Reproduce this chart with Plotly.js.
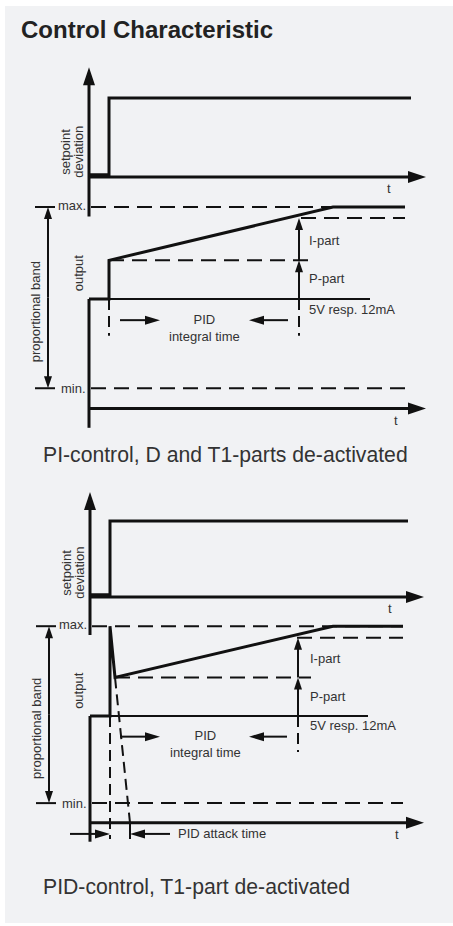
<!DOCTYPE html>
<html><head><meta charset="utf-8">
<script src="https://cdn.plot.ly/plotly-3.0.1.min.js"></script>
<style>html,body{margin:0;padding:0;background:#fff;} #chart{width:453px;height:926px;}</style>
</head><body><div id="chart"></div>
<script>
// ================= DATA (diagram values) =================
// time in arbitrary units (step at t = 1); output in % of proportional band
// ---- Panel 1 : PI-control ----
const p1SetpointT = [0, 1, 1, 16.1];
const p1SetpointV = [0.03, 0.03, 1, 1];
const p1OutputT   = [0, 1, 1, 12.2, 15.8];
const p1OutputV   = [0, 0, 42, 100, 100];
const p1RefT      = [0, 14.05];            // "5V resp. 12mA" reference line
const p1LimitT    = [0.1, 15.8];           // extent of max./min. lines
const p1Limits    = [100, -97];            // max., min.
const p1PLineT    = [1, 11.1];
const p1ILineT    = [10.6, 15.8];
const p1Parts     = [42, 88];              // P-part level, P+I level
const p1IntegralT = [1, 10.5];             // PID integral time
const p1TimeEnd   = 16.85;

// ---- Panel 2 : PID-control ----
const p2SetpointT = [0, 1, 1, 15.9];
const p2SetpointV = [0.03, 0.03, 1, 1];
const p2OutputT   = [0, 1, 1, 1.25, 12.15, 15.65];
const p2OutputV   = [0, 0, 100, 43, 100, 100];
const p2DecayT    = [1.25, 2.0];           // D-part decay (dashed)
const p2DecayV    = [43, -119];
const p2RefT      = [0, 13.9];
const p2LimitT    = [0.1, 15.65];
const p2Limits    = [100, -97];
const p2PLineT    = [1.25, 11.05];
const p2ILineT    = [10.35, 15.65];
const p2Parts     = [43, 87];
const p2IntegralT = [1, 10.4];
const p2AttackT   = [1, 2.0];              // PID attack time
const p2TimeEnd   = 16.7;

const timeAxisLevel = -119;                // lower time axis, in output units

// ================= SCALES =================
const W = 453, H = 926;
const SX = {x: 20, x2: 20};
const X0 = {x: 89, x2: 90};
const SY = {y: 79, y2: 0.92, y3: 76, y4: 0.898};
const Y0 = {y: 177, y2: 299, y3: 597, y4: 716};

const INK = '#111';
const TXT = '#333';
const FONT = 'Liberation Sans, Arial, sans-serif';

const traces = [];
function line(xa, ya, xs, ys, w, dash) {
  traces.push({type: 'scatter', mode: 'lines', x: xs, y: ys, xaxis: xa, yaxis: ya,
    line: {color: INK, width: w, dash: dash || 'solid'}, hoverinfo: 'skip', showlegend: false});
}
function arrow(xa, ya, xA, yA, xB, yB, w, len, wid) {
  const sx = SX[xa], sy = SY[ya];
  const dx = (xB - xA) * sx, dy = (yB - yA) * sy;
  const L = Math.hypot(dx, dy), ux = dx / L, uy = dy / L;
  const ex = xB - ux * len * 0.6 / sx, ey = yB - uy * len * 0.6 / sy;
  line(xa, ya, [xA, ex], [yA, ey], w);
  const bx = xB - ux * len / sx, by = yB - uy * len / sy;
  const px = -uy * wid / 2, py = ux * wid / 2;
  traces.push({type: 'scatter', mode: 'lines', xaxis: xa, yaxis: ya,
    x: [xB, bx + px / sx, bx - px / sx, xB], y: [yB, by + py / sy, by - py / sy, yB],
    fill: 'toself', fillcolor: INK, line: {width: 0, color: INK}, hoverinfo: 'skip', showlegend: false});
}

const anns = [];
function label(xa, ya, x, y, text, o) {
  o = o || {};
  anns.push({xref: xa, yref: ya, x: x, y: y, text: text, showarrow: false,
    xanchor: o.xa || 'center', yanchor: o.ya || 'middle', textangle: o.rot || 0,
    yshift: o.ys || 0, font: {family: FONT, size: o.size || 13, color: o.color || TXT}});
}

function panel(xa, ys, yo, d) {
  // vertical axis
  arrow(xa, ys, 0, -0.5, 0, d.axisTip, 3, 18, 12);
  line(xa, yo, [0, 0], [0, d.axisBottom], 3);
  // time axes
  arrow(xa, ys, 0, 0, d.timeEnd, 0, 3, 18, 12);
  arrow(xa, yo, 0, timeAxisLevel, d.timeEnd, timeAxisLevel, 3, 18, 12);
  // setpoint step
  line(xa, ys, d.spT, d.spV, 3);
  // limits
  line(xa, yo, d.limT, [d.lim[0], d.lim[0]], 2, '15px,8px');
  line(xa, yo, d.limT, [d.lim[1], d.lim[1]], 2, '15px,8px');
  // reference line
  line(xa, yo, d.refT, [0, 0], 2);
  // P / I dashed levels
  line(xa, yo, d.pT, [d.parts[0], d.parts[0]], 2, '15px,8px');
  line(xa, yo, d.iT, [d.parts[1], d.parts[1]], 2, '15px,8px');
  // output
  line(xa, yo, d.outT, d.outV, 3);
  // P / I arrows
  const ti = d.intT[1];
  arrow(xa, yo, ti, 0, ti, d.parts[0], 2, 12, 8);
  arrow(xa, yo, ti, d.parts[0], ti, d.parts[1], 2, 12, 8);
  // integral time markers
  line(xa, yo, [d.intT[0], d.intT[0]], [0, d.int0Bottom], 2, '11px,6px');
  line(xa, yo, [ti, ti], [0, -40], 2, '11px,6px');
  arrow(xa, yo, d.intArrR[0], -23, d.intArrR[1], -23, 2, 15, 9);
  arrow(xa, yo, d.intArrL[0], -23, d.intArrL[1], -23, 2, 15, 9);
  // proportional band
  const pb = -2.05, mid = (d.lim[0] + d.lim[1]) / 2;
  arrow(xa, yo, pb, mid, pb, d.lim[0], 2, 12, 8);
  arrow(xa, yo, pb, mid, pb, d.lim[1], 2, 12, 8);
  line(xa, yo, [-2.7, -1.7], [d.lim[0], d.lim[0]], 2);
  line(xa, yo, [-2.7, -1.7], [d.lim[1], d.lim[1]], 2);

  // labels
  label(xa, ys, -1.15, 0.32, 'setpoint', {rot: -90});
  label(xa, ys, -0.5, 0.32, 'deviation', {rot: -90});
  label(xa, ys, 15.0, -0.15, 't');
  label(xa, yo, 15.35, -132.5, 't');
  label(xa, yo, -0.05, d.lim[0], 'max.', {xa: 'right', ys: 2});
  label(xa, yo, -0.05, d.lim[1], 'min.', {xa: 'right'});
  label(xa, yo, -0.55, 28, 'output', {rot: -90});
  label(xa, yo, -2.68, -14, 'proportional band', {rot: -90});
  label(xa, yo, 10.9, 64, 'I-part', {xa: 'left'});
  label(xa, yo, 10.9, 22, 'P-part', {xa: 'left'});
  label(xa, yo, 10.9, -11, '5V resp. 12mA', {xa: 'left'});
  label(xa, yo, 5.77, -31.5, 'PID<br>integral time');
}

panel('x', 'y', 'y2', {
  axisTip: 1.39, axisBottom: -140, timeEnd: p1TimeEnd,
  spT: p1SetpointT, spV: p1SetpointV, limT: p1LimitT, lim: p1Limits,
  refT: p1RefT, pT: p1PLineT, iT: p1ILineT, parts: p1Parts,
  outT: p1OutputT, outV: p1OutputV, intT: p1IntegralT, int0Bottom: -40,
  intArrR: [1.55, 3.55], intArrL: [9.95, 8.0]
});
panel('x2', 'y3', 'y4', {
  axisTip: 1.38, axisBottom: -140, timeEnd: p2TimeEnd,
  spT: p2SetpointT, spV: p2SetpointV, limT: p2LimitT, lim: p2Limits,
  refT: p2RefT, pT: p2PLineT, iT: p2ILineT, parts: p2Parts,
  outT: p2OutputT, outV: p2OutputV, intT: p2IntegralT, int0Bottom: -137,
  intArrR: [1.5, 3.5], intArrL: [9.85, 7.95]
});
// D-part decay and attack time (panel 2)
line('x2', 'y4', p2DecayT, p2DecayV, 2, '11px,6px');
line('x2', 'y4', [p2AttackT[1], p2AttackT[1]], [timeAxisLevel, -137], 2);
arrow('x2', 'y4', -1.0, -131.3, p2AttackT[0], -131.3, 2, 15, 9);
arrow('x2', 'y4', 4.0, -131.3, p2AttackT[1], -131.3, 2, 15, 9);
label('x2', 'y4', 4.3, -131.3, 'PID attack time', {xa: 'left'});

// page texts
function ptext(px, py, text, size, color, xa) {
  anns.push({xref: 'paper', yref: 'paper', x: px / W, y: 1 - py / H, text: text, showarrow: false,
    xanchor: xa || 'left', yanchor: 'middle', font: {family: FONT, size: size, color: color}});
}
ptext(19, 29, '<b>Control Characteristic</b>', 24, '#222');
ptext(41, 455, 'PI-control, D and T1-parts de-activated', 21.2, TXT);
ptext(41, 887, 'PID-control, T1-part de-activated', 21.2, TXT);

function yax(k, ov) {
  const a = {range: [(Y0[k] - H) / SY[k], Y0[k] / SY[k]], visible: false, fixedrange: true, domain: [0, 1]};
  if (ov) a.overlaying = 'y';
  return a;
}
const layout = {
  width: W, height: H, margin: {l: 0, r: 0, t: 0, b: 0, pad: 0},
  paper_bgcolor: '#ffffff', plot_bgcolor: 'rgba(0,0,0,0)', showlegend: false,
  xaxis: {range: [-X0.x / SX.x, (W - X0.x) / SX.x], visible: false, fixedrange: true, domain: [0, 1]},
  xaxis2: {range: [-X0.x2 / SX.x2, (W - X0.x2) / SX.x2], visible: false, fixedrange: true, overlaying: 'x', domain: [0, 1]},
  yaxis: yax('y', false), yaxis2: yax('y2', true), yaxis3: yax('y3', true), yaxis4: yax('y4', true),
  shapes: [{type: 'rect', xref: 'paper', yref: 'paper', x0: 5 / W, x1: 1, y0: 1 - 923 / H, y1: 1 - 6 / H,
    fillcolor: '#f1f2f4', line: {width: 0}, layer: 'below'}],
  annotations: anns
};
Plotly.newPlot('chart', traces, layout, {staticPlot: true, displayModeBar: false});
</script></body></html>
